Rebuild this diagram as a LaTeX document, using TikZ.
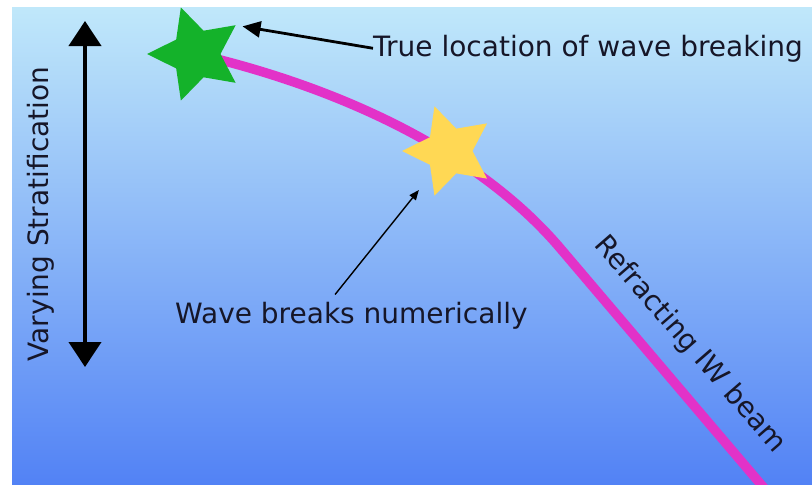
\documentclass[tikz,border=0pt]{standalone}
\usepackage{fontspec}
\setmainfont{DejaVu Sans}
\usetikzlibrary{arrows.meta, shapes.geometric}
\definecolor{skytop}{RGB}{192,232,250}
\definecolor{skybot}{RGB}{82,130,245}
\definecolor{beammag}{RGB}{226,50,200}
\definecolor{stargreen}{RGB}{20,178,42}
\definecolor{staryellow}{RGB}{255,216,84}
\definecolor{labink}{RGB}{22,22,40}

\begin{document}
\begin{tikzpicture}[
  x=1pt, y=-1pt,
  lbl/.style={font=\fontsize{28}{32}\selectfont, text=labink, inner sep=0pt},
  starry/.style={star, star points=5, star point ratio=2, shape border rotate=90,
                 inner sep=0pt, outer sep=0pt, draw=none},
  beam/.style={draw=beammag, line width=9.5pt},
  ptr/.style={-{Triangle[length=18pt, width=16pt]}, draw=black, line width=2.8pt},
  thinptr/.style={-{Triangle[length=10pt, width=8pt]}, draw=black, line width=1.4pt},
  strat/.style={{Triangle[length=25pt, width=32pt]}-{Triangle[length=25pt, width=32pt]},
                draw=black, line width=4pt}
]

\useasboundingbox (0,0) rectangle (812,485);
\fill[white] (0,0) rectangle (812,485);
\fill[top color=skytop, bottom color=skybot, draw=none] (12,7) rectangle (812,485);

\coordinate (gc) at (196,54);
\coordinate (yc) at (449,151);
\coordinate (beamend) at (764,488);
\draw[beam] (gc) .. controls (330,85) and (474,147) .. (560,248) -- (beamend);

\node[starry, fill=stargreen, minimum size=98pt] (gstar) at (gc) {};
\node[starry, fill=staryellow, minimum size=94pt] (ystar) at (yc) {};

\node[lbl, anchor=base west] (truebrk) at (373,56) {True location of wave breaking};
\node[lbl, anchor=base west] (numbrk) at (175,323) {Wave breaks numerically};
\node[lbl, anchor=base, rotate=90] (vary) at (48,214) {Varying Stratification};
\node[lbl, anchor=base, rotate=-49] (iwbeam) at (684,350) {Refracting IW beam};

\coordinate (strattop) at (85,21);
\coordinate (stratbot) at (85,367);
\draw[strat] (stratbot) -- (strattop);

\draw[ptr, shorten >=7pt] (truebrk.west) -- (gstar.36);
\draw[thinptr, shorten <=9pt, shorten >=20pt] ([xshift=-22pt]numbrk.north) -- (ystar.233);

\end{tikzpicture}
\end{document}
